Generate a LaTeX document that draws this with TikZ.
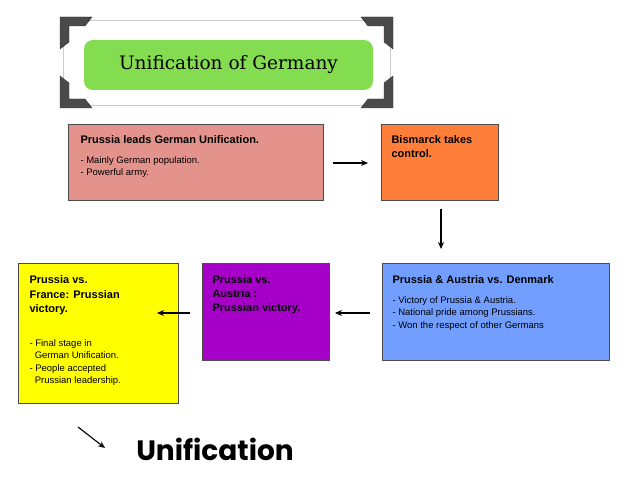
\documentclass[tikz,border=0pt]{standalone}
\usepackage{fontspec}
\setmainfont{Liberation Sans}
\newfontfamily\titlefont{DejaVu Serif}
\newfontfamily\handfont{Poppins}
\usetikzlibrary{arrows.meta}
\definecolor{pinkb}{HTML}{E3928C}
\definecolor{orangeb}{HTML}{FF7F3A}
\definecolor{blueb}{HTML}{729EFF}
\definecolor{purpleb}{HTML}{A600C8}
\definecolor{yellowb}{HTML}{FFFF00}
\definecolor{greenb}{HTML}{84DC50}
\definecolor{cornerc}{HTML}{4A4A4A}
\begin{document}
\begin{tikzpicture}[x=1pt,y=-1pt,
  box/.style={draw=black!70,line width=0.6pt,anchor=north west,align=left,inner sep=0pt},
  arr/.style={-{Stealth[length=7pt,width=6pt]},line width=1.1pt},
  corner/.style={fill=cornerc,draw=black!80}]
\useasboundingbox (0,0) rectangle (640,478);
% title frame
\node[draw=black!20,fill=white,minimum width=327pt,minimum height=85pt,anchor=north west] (frame) at (63,20) {};
\node[fill=greenb,rounded corners=9pt,minimum width=289pt,minimum height=50pt] (title) at (228.5,65) {\titlefont\fontsize{18.5}{22}\selectfont Unification of Germany};
\foreach \cx/\cy/\sx/\sy in {60/17/1/1, 393/17/-1/1, 60/108/1/-1, 393/108/-1/-1}{
  \fill[corner] (\cx,\cy) -- ++(32*\sx,0) -- ++(-7*\sx,9*\sy) -- ++(-16*\sx,0) -- ++(0,16*\sy) -- ++(-9*\sx,7*\sy) -- cycle;
}
% boxes
\node[box,fill=pinkb,minimum width=255pt,minimum height=76pt] (b1) at (68,124) {};
\node[anchor=north west,align=left,font=\fontsize{9.5}{12.5}\selectfont] at (77,132) {\textbf{\fontsize{11}{12}\selectfont Prussia leads German Unification.}\\[7pt]- Mainly German population.\\- Powerful army.};
\node[box,fill=orangeb,minimum width=117pt,minimum height=76pt] (b2) at (381,124) {};
\node[anchor=north west,align=left,font=\bfseries\fontsize{11}{14}\selectfont] at (388,132) {Bismarck takes\\control.};
\node[box,fill=blueb,minimum width=227pt,minimum height=97pt] (b3) at (382,263) {};
\node[anchor=north west,align=left,font=\fontsize{9.5}{12.5}\selectfont] at (389,272) {\textbf{\fontsize{11}{12}\selectfont Prussia \& Austria vs. Denmark}\\[7pt]- Victory of Prussia \& Austria.\\- National pride among Prussians.\\- Won the respect of other Germans};
\node[box,fill=purpleb,minimum width=127pt,minimum height=97pt] (b4) at (202,263) {};
\node[anchor=north west,align=left,font=\bfseries\fontsize{11}{14}\selectfont] at (209,272) {Prussia vs.\\Austria :\\Prussian victory.};
\node[box,fill=yellowb,minimum width=160pt,minimum height=140pt] (b5) at (18,263) {};
\node[anchor=north west,align=left,font=\bfseries\fontsize{11}{14.5}\selectfont] at (26,272) {Prussia vs.\\France: Prussian\\victory.};
\node[anchor=north west,align=left,font=\fontsize{9.5}{12.5}\selectfont] at (26,336) {- Final stage in\\\ \ German Unification.\\- People accepted\\\ \ Prussian leadership.};
% arrows
\coordinate (a1s) at (333,163); \coordinate (a1e) at (368,163);
\draw[arr] (a1s) -- (a1e);
\coordinate (a2s) at (441,209); \coordinate (a2e) at (441,249);
\draw[arr] (a2s) -- (a2e);
\coordinate (a3s) at (370,313); \coordinate (a3e) at (335,313);
\draw[arr] (a3s) -- (a3e);
\coordinate (a4s) at (190,313); \coordinate (a4e) at (157,313);
\draw[arr] (a4s) -- (a4e);
\coordinate (a5s) at (78,427); \coordinate (a5e) at (105,448);
\draw[arr] (a5s) -- (a5e);
\node[font=\handfont\bfseries\fontsize{28}{32}\selectfont] (uni) at (215,449) {Unification};
\end{tikzpicture}
\end{document}
